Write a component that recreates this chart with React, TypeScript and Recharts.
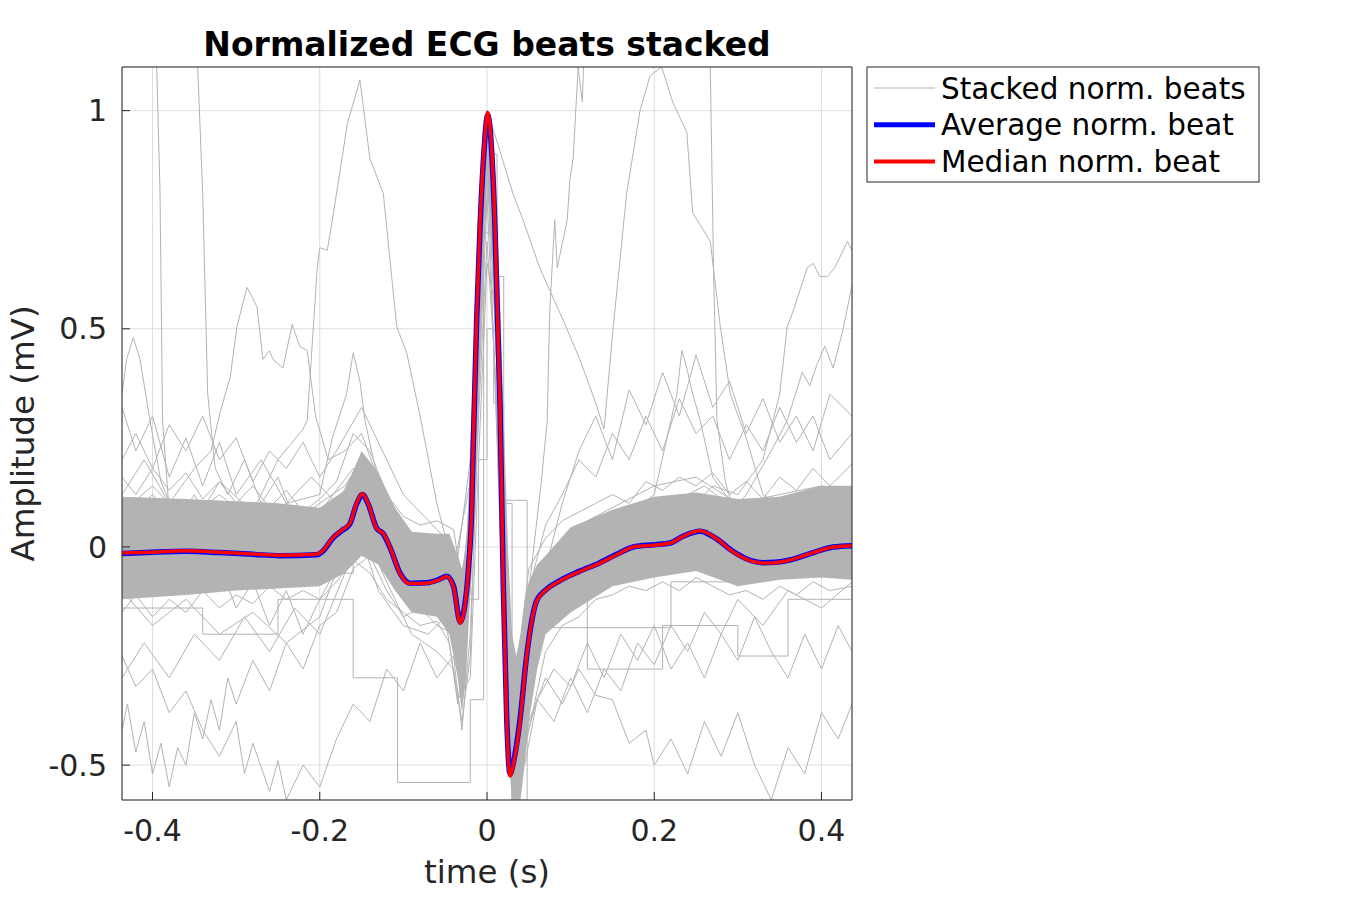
import { ComposedChart, Line, Area, XAxis, YAxis, CartesianGrid } from 'recharts';

// axis setup
const xDomain = [-0.4365, 0.4365];
const yDomain = [-0.58, 1.1];
const xTicks = [-0.4, -0.2, 0, 0.2, 0.4];
const yTicks = [-0.5, 0, 0.5, 1];

// average / median beat, sampled at hand-read times
const beatTime = [
  -0.4365, -0.4, -0.36, -0.32, -0.28, -0.248, -0.204, -0.196, -0.184, -0.174, -0.164, -0.156, -0.149, -0.142,
  -0.132, -0.124, -0.116, -0.104, -0.092, -0.072, -0.058, -0.048, -0.04, -0.032, -0.028, -0.022, -0.018,
  -0.0167, -0.0123, -0.0084, -0.004, 0.0008, 0.005, 0.0096, 0.0156, 0.0195, 0.0236, 0.0275, 0.0315, 0.0395,
  0.0475, 0.0594, 0.07, 0.0873, 0.11, 0.135, 0.155, 0.175, 0.2, 0.219, 0.235, 0.255, 0.275, 0.294, 0.31, 0.33,
  0.345, 0.362, 0.39, 0.414, 0.4365,
];
const medianBeat = [
  -0.014, -0.012, -0.009, -0.012, -0.016, -0.019, -0.017, -0.008, 0.022, 0.038, 0.054, 0.1, 0.122, 0.099,
  0.042, 0.031, 0.0, -0.061, -0.084, -0.083, -0.076, -0.068, -0.092, -0.175, -0.153, -0.046, 0.107,
  0.218, 0.53, 0.736, 0.9, 0.996, 0.93, 0.736, 0.32, -0.094, -0.4, -0.525, -0.5, -0.4,
  -0.25, -0.124, -0.1, -0.078, -0.057, -0.037, -0.018, 0.0, 0.004, 0.009, 0.025, 0.037, 0.018, -0.011, -0.028, -0.037,
  -0.036, -0.03, -0.013, 0.0, 0.003,
];
const averageBeat = [
  -0.015, -0.012, -0.01, -0.013, -0.017, -0.02, -0.018, -0.009, 0.021, 0.037, 0.053, 0.098, 0.12, 0.098,
  0.043, 0.03, -0.001, -0.06, -0.083, -0.082, -0.075, -0.067, -0.09, -0.172, -0.15, -0.045, 0.105,
  0.215, 0.525, 0.73, 0.895, 0.99, 0.925, 0.73, 0.32, -0.09, -0.395, -0.52, -0.495, -0.395,
  -0.248, -0.123, -0.099, -0.077, -0.056, -0.036, -0.017, 0.0, 0.005, 0.009, 0.025, 0.036, 0.018, -0.01, -0.027, -0.036,
  -0.035, -0.03, -0.013, 0.0, 0.003,
];

// dense cloud of stacked beats: [time, low, high]
const beatCloud = [
  [-0.4365, -0.12, 0.115], [-0.36, -0.11, 0.11], [-0.3, -0.1, 0.105], [-0.25, -0.095, 0.1], [-0.2, -0.09, 0.09],
  [-0.17, -0.06, 0.13], [-0.15, -0.02, 0.22], [-0.13, -0.04, 0.17], [-0.11, -0.1, 0.09], [-0.09, -0.15, 0.035],
  [-0.06, -0.16, 0.03], [-0.045, -0.2, 0.03], [-0.035, -0.3, -0.02], [-0.03, -0.38, -0.05], [-0.025, -0.3, 0.0],
  [-0.02, -0.1, 0.2], [-0.015, 0.1, 0.45], [-0.01, 0.35, 0.75], [-0.005, 0.6, 0.95], [0.0, 0.85, 1.0],
  [0.005, 0.8, 0.98], [0.01, 0.55, 0.85], [0.015, 0.2, 0.6], [0.02, -0.15, 0.3], [0.025, -0.45, 0.0],
  [0.03, -0.58, -0.2], [0.035, -0.58, -0.25], [0.04, -0.58, -0.2], [0.045, -0.5, -0.12], [0.05, -0.4, -0.08],
  [0.06, -0.28, -0.04], [0.07, -0.2, -0.02], [0.1, -0.15, 0.045], [0.15, -0.09, 0.085], [0.2, -0.07, 0.115],
  [0.25, -0.055, 0.125], [0.3, -0.09, 0.11], [0.35, -0.075, 0.115], [0.4, -0.07, 0.14], [0.4365, -0.075, 0.14],
];

// single stacked beats that stand out of the cloud: [time, amplitude]
const beatA = [[-0.4365,0.05],[-0.4,0.12],[-0.36,0.02],[-0.32,0.15],[-0.28,0.08],[-0.25,0.2],[-0.22,0.27],[-0.215,0.29],[-0.203,0.64],[-0.2,0.686],[-0.191,0.68],[-0.184,0.76],[-0.167,0.97],[-0.152,1.07],[-0.14,0.89],[-0.124,0.81],[-0.108,0.505],[-0.096,0.445],[-0.08,0.3],[-0.06,0.1],[-0.04,-0.05],[-0.02,0.15],[0.0,0.9],[0.02,-0.2],[0.04,-0.35],[0.07,-0.15],[0.1,-0.05],[0.15,0.05],[0.2,0.02],[0.25,0.08],[0.3,-0.02],[0.35,0.06],[0.4,0.03],[0.4365,0.05]];
const beatB = [[-0.4365,-0.05],[-0.4,0.02],[-0.36,-0.06],[-0.32,0.03],[-0.28,-0.04],[-0.24,0.05],[-0.2,0.0],[-0.16,0.15],[-0.12,0.05],[-0.08,-0.08],[-0.04,-0.1],[-0.02,0.2],[-0.005,0.9],[0.0,1.0],[0.007,0.96],[0.031,0.81],[0.043,0.75],[0.063,0.64],[0.091,0.52],[0.111,0.43],[0.13,0.33],[0.14,0.27],[0.151,0.505],[0.167,0.81],[0.183,1.0],[0.195,1.08],[0.209,1.1],[0.222,1.02],[0.239,0.95],[0.246,0.766],[0.267,0.7],[0.279,0.505],[0.291,0.35],[0.31,0.25],[0.33,0.12],[0.36,0.08],[0.4,0.12],[0.4365,0.1]];
const beatC = [[-0.4365,1.6],[-0.41,1.35],[-0.395,1.1],[-0.391,0.81],[-0.388,0.29],[-0.38,0.08],[-0.37,-0.05],[-0.36,0.02],[-0.34,-0.1],[-0.32,-0.04],[-0.3,-0.14],[-0.28,-0.08],[-0.26,-0.18],[-0.24,-0.1],[-0.22,-0.2],[-0.2,-0.12],[-0.18,-0.05],[-0.15,0.08],[-0.12,-0.05],[-0.09,-0.12],[-0.06,-0.1],[-0.04,-0.12],[-0.03,-0.25],[-0.02,-0.1],[-0.01,0.45],[0.0,0.92],[0.012,0.4],[0.025,-0.42],[0.035,-0.5],[0.05,-0.22],[0.07,-0.12],[0.1,-0.06],[0.14,-0.02],[0.18,0.03],[0.22,0.05],[0.26,0.08],[0.3,0.02],[0.34,0.0],[0.38,0.04],[0.4365,0.02]];
const beatD = [[-0.4365,1.45],[-0.37,1.3],[-0.346,1.1],[-0.34,0.81],[-0.334,0.35],[-0.325,0.18],[-0.31,0.12],[-0.29,0.2],[-0.27,0.1],[-0.25,0.16],[-0.23,0.06],[-0.2,0.1],[-0.17,0.14],[-0.15,0.2],[-0.13,0.1],[-0.1,0.0],[-0.07,-0.04],[-0.05,-0.06],[-0.035,-0.2],[-0.02,-0.1],[-0.01,0.4],[0.0,0.88],[0.012,0.5],[0.025,-0.3],[0.035,-0.48],[0.05,-0.25],[0.07,-0.1],[0.1,-0.04],[0.14,0.02],[0.18,0.06],[0.22,0.1],[0.26,0.14],[0.3,0.08],[0.34,0.04],[0.38,0.08],[0.4365,0.06]];
const beatE = [[-0.4365,0.0],[-0.4,-0.06],[-0.36,0.04],[-0.32,-0.05],[-0.28,0.03],[-0.24,-0.04],[-0.2,0.02],[-0.17,0.1],[-0.15,0.16],[-0.12,0.06],[-0.09,-0.04],[-0.06,-0.06],[-0.04,-0.08],[-0.03,-0.22],[-0.02,-0.05],[-0.01,0.5],[0.0,0.97],[0.012,0.45],[0.025,-0.4],[0.035,-0.5],[0.05,-0.1],[0.065,0.15],[0.072,0.29],[0.075,0.54],[0.081,0.75],[0.084,0.64],[0.096,0.75],[0.099,0.84],[0.103,0.89],[0.109,1.1],[0.114,1.02],[0.118,1.25],[0.14,1.5],[0.2,1.6],[0.24,1.45],[0.262,1.2],[0.267,1.1],[0.271,0.63],[0.275,0.29],[0.285,0.15],[0.3,0.05],[0.33,0.0],[0.36,0.06],[0.4,0.02],[0.4365,0.04]];
const beatF = [[-0.4365,0.05],[-0.4,0.0],[-0.36,0.08],[-0.32,0.02],[-0.28,0.1],[-0.24,0.04],[-0.2,0.08],[-0.16,0.18],[-0.13,0.1],[-0.1,-0.02],[-0.07,-0.06],[-0.04,-0.04],[-0.03,-0.18],[-0.02,0.0],[-0.01,0.55],[0.0,1.0],[0.012,0.5],[0.025,-0.38],[0.035,-0.46],[0.05,-0.15],[0.08,-0.05],[0.12,0.0],[0.16,0.05],[0.2,0.1],[0.24,0.08],[0.27,0.14],[0.3,0.12],[0.33,0.2],[0.35,0.35],[0.359,0.505],[0.366,0.54],[0.383,0.64],[0.39,0.65],[0.398,0.62],[0.407,0.62],[0.416,0.64],[0.431,0.7],[0.4365,0.68]];
const beatG = [[-0.4365,-0.05],[-0.4,0.04],[-0.36,-0.02],[-0.32,0.06],[-0.28,0.0],[-0.24,0.05],[-0.2,-0.02],[-0.16,0.12],[-0.13,0.04],[-0.1,-0.08],[-0.07,-0.1],[-0.04,-0.08],[-0.03,-0.2],[-0.02,-0.04],[-0.01,0.5],[0.0,0.96],[0.012,0.4],[0.025,-0.45],[0.035,-0.52],[0.05,-0.2],[0.08,-0.08],[0.12,-0.02],[0.16,0.04],[0.2,0.06],[0.24,0.1],[0.28,0.05],[0.31,0.12],[0.34,0.22],[0.359,0.29],[0.377,0.4],[0.386,0.37],[0.395,0.42],[0.404,0.46],[0.414,0.41],[0.426,0.5],[0.4365,0.6]];
const beatH = [[-0.4365,0.35],[-0.431,0.43],[-0.423,0.48],[-0.415,0.43],[-0.403,0.29],[-0.39,0.15],[-0.37,0.06],[-0.35,0.12],[-0.33,0.04],[-0.31,0.1],[-0.28,0.02],[-0.25,0.08],[-0.22,0.0],[-0.19,0.04],[-0.16,0.14],[-0.13,0.06],[-0.1,-0.06],[-0.07,-0.1],[-0.045,-0.08],[-0.032,-0.2],[-0.02,-0.02],[-0.01,0.5],[0.0,0.98],[0.012,0.5],[0.025,-0.4],[0.035,-0.5],[0.05,-0.16],[0.08,-0.06],[0.12,-0.02],[0.16,0.02],[0.2,0.04],[0.25,0.06],[0.3,0.0],[0.35,-0.02],[0.4,0.02],[0.4365,0.0]];
const beatI = [[-0.4365,0.12],[-0.41,0.2],[-0.38,0.1],[-0.35,0.18],[-0.33,0.22],[-0.319,0.31],[-0.307,0.39],[-0.299,0.505],[-0.287,0.595],[-0.275,0.55],[-0.268,0.43],[-0.26,0.45],[-0.256,0.43],[-0.244,0.41],[-0.233,0.51],[-0.224,0.46],[-0.215,0.45],[-0.205,0.3],[-0.19,0.2],[-0.17,0.22],[-0.15,0.26],[-0.12,0.1],[-0.09,0.0],[-0.06,-0.02],[-0.04,-0.06],[-0.03,-0.16],[-0.02,0.05],[-0.01,0.5],[0.0,0.94],[0.012,0.45],[0.025,-0.36],[0.035,-0.44],[0.05,-0.12],[0.08,0.0],[0.12,0.06],[0.16,0.1],[0.2,0.14],[0.25,0.16],[0.3,0.1],[0.35,0.12],[0.4,0.14],[0.4365,0.1]];
const beatJ = [[-0.4365,0.08],[-0.4,0.14],[-0.36,0.06],[-0.32,0.12],[-0.28,0.06],[-0.24,0.1],[-0.2,0.12],[-0.185,0.25],[-0.168,0.35],[-0.16,0.445],[-0.152,0.38],[-0.146,0.29],[-0.13,0.15],[-0.11,0.05],[-0.09,-0.02],[-0.06,-0.05],[-0.04,-0.06],[-0.03,-0.18],[-0.02,0.0],[-0.01,0.52],[0.0,0.99],[0.012,0.48],[0.025,-0.38],[0.035,-0.48],[0.05,-0.14],[0.08,-0.04],[0.12,0.02],[0.16,0.06],[0.2,0.12],[0.227,0.35],[0.233,0.45],[0.239,0.41],[0.246,0.35],[0.255,0.29],[0.27,0.16],[0.3,0.08],[0.35,0.06],[0.4,0.1],[0.4365,0.08]];
const beatK = [[-0.4365,-0.42],[-0.43,-0.36],[-0.42,-0.47],[-0.41,-0.4],[-0.4,-0.52],[-0.39,-0.45],[-0.38,-0.55],[-0.37,-0.46],[-0.36,-0.5],[-0.35,-0.38],[-0.34,-0.44],[-0.33,-0.35],[-0.32,-0.42],[-0.31,-0.3],[-0.3,-0.36],[-0.28,-0.26],[-0.26,-0.33],[-0.24,-0.22],[-0.22,-0.28],[-0.2,-0.18],[-0.18,-0.15],[-0.16,-0.05],[-0.14,-0.02],[-0.12,-0.1],[-0.1,-0.16],[-0.08,-0.14],[-0.06,-0.18],[-0.04,-0.2],[-0.03,-0.3],[-0.02,-0.1],[-0.01,0.5],[0.0,0.85],[0.01,0.6],[0.02,-0.1],[0.03,-0.5],[0.04,-0.45],[0.06,-0.2],[0.08,-0.16],[0.1,-0.12],[0.14,-0.1],[0.18,-0.05],[0.22,-0.02],[0.26,0.02],[0.3,-0.03],[0.34,-0.06],[0.38,-0.02],[0.4365,-0.04]];
const beatL = [[-0.4365,-0.25],[-0.42,-0.32],[-0.4,-0.28],[-0.38,-0.38],[-0.36,-0.33],[-0.34,-0.42],[-0.32,-0.48],[-0.3,-0.4],[-0.29,-0.52],[-0.28,-0.45],[-0.26,-0.56],[-0.25,-0.49],[-0.24,-0.58],[-0.22,-0.5],[-0.2,-0.55],[-0.18,-0.44],[-0.16,-0.36],[-0.14,-0.4],[-0.12,-0.28],[-0.1,-0.33],[-0.08,-0.22],[-0.06,-0.3],[-0.04,-0.25],[-0.03,-0.42],[-0.02,-0.2],[-0.01,0.3],[0.0,0.7],[0.01,0.4],[0.02,-0.2],[0.03,-0.58],[0.045,-0.45],[0.06,-0.35],[0.08,-0.4],[0.1,-0.3],[0.12,-0.38],[0.14,-0.28],[0.16,-0.33],[0.18,-0.22],[0.2,-0.27],[0.22,-0.18],[0.24,-0.24],[0.26,-0.15],[0.28,-0.2],[0.3,-0.12],[0.33,-0.18],[0.36,-0.1],[0.4,-0.14],[0.4365,-0.08]];
const beatM = [[-0.4365,-0.1],[-0.4,-0.18],[-0.36,-0.12],[-0.32,-0.2],[-0.28,-0.15],[-0.24,-0.22],[-0.2,-0.16],[-0.17,0.0],[-0.15,0.05],[-0.12,-0.08],[-0.09,-0.2],[-0.06,-0.24],[-0.04,-0.28],[-0.03,-0.4],[-0.02,-0.25],[-0.01,0.35],[0.0,0.8],[0.012,0.3],[0.025,-0.4],[0.035,-0.58],[0.05,-0.4],[0.07,-0.3],[0.09,-0.36],[0.11,-0.28],[0.13,-0.34],[0.15,-0.35],[0.17,-0.45],[0.19,-0.42],[0.2,-0.5],[0.22,-0.44],[0.24,-0.52],[0.26,-0.4],[0.28,-0.48],[0.3,-0.38],[0.32,-0.5],[0.34,-0.58],[0.36,-0.46],[0.38,-0.52],[0.4,-0.38],[0.42,-0.44],[0.4365,-0.36]];
const beatN = [[-0.4365,-0.3],[-0.41,-0.22],[-0.38,-0.3],[-0.35,-0.2],[-0.32,-0.26],[-0.29,-0.16],[-0.26,-0.24],[-0.23,-0.14],[-0.2,-0.2],[-0.17,-0.06],[-0.15,0.02],[-0.13,-0.1],[-0.1,-0.18],[-0.07,-0.2],[-0.05,-0.16],[-0.035,-0.35],[-0.02,-0.3],[-0.01,0.2],[0.0,0.65],[0.01,0.55],[0.02,0.0],[0.03,-0.45],[0.045,-0.5],[0.06,-0.35],[0.08,-0.28],[0.1,-0.32],[0.12,-0.22],[0.14,-0.3],[0.16,-0.2],[0.18,-0.26],[0.2,-0.18],[0.22,-0.28],[0.24,-0.22],[0.26,-0.3],[0.28,-0.2],[0.3,-0.26],[0.32,-0.16],[0.34,-0.24],[0.36,-0.3],[0.38,-0.2],[0.4,-0.28],[0.42,-0.18],[0.4365,-0.24]];
const beatO = [[-0.4365,0.2],[-0.42,0.26],[-0.4,0.18],[-0.38,0.28],[-0.36,0.22],[-0.34,0.3],[-0.32,0.2],[-0.3,0.25],[-0.28,0.15],[-0.26,0.22],[-0.24,0.18],[-0.22,0.24],[-0.2,0.16],[-0.18,0.22],[-0.15,0.32],[-0.12,0.2],[-0.1,0.12],[-0.08,0.08],[-0.06,0.04],[-0.04,0.0],[-0.03,-0.1],[-0.02,0.0],[-0.01,0.5],[0.0,0.95],[0.012,0.5],[0.025,-0.3],[0.035,-0.35],[0.05,-0.1],[0.07,0.05],[0.09,0.12],[0.11,0.2],[0.13,0.16],[0.15,0.26],[0.17,0.2],[0.19,0.3],[0.21,0.22],[0.23,0.34],[0.25,0.26],[0.27,0.3],[0.29,0.2],[0.31,0.28],[0.33,0.22],[0.35,0.32],[0.37,0.24],[0.39,0.3],[0.41,0.2],[0.4365,0.26]];
const beatP = [[-0.4365,0.32],[-0.42,0.22],[-0.4,0.3],[-0.38,0.16],[-0.36,0.25],[-0.34,0.14],[-0.32,0.24],[-0.3,0.12],[-0.27,0.2],[-0.24,0.1],[-0.21,0.16],[-0.18,0.1],[-0.15,0.2],[-0.12,0.1],[-0.09,0.02],[-0.06,-0.02],[-0.04,-0.05],[-0.03,-0.2],[-0.02,-0.05],[-0.01,0.4],[0.0,0.9],[0.012,0.45],[0.025,-0.35],[0.035,-0.45],[0.05,-0.2],[0.07,-0.05],[0.09,0.1],[0.11,0.22],[0.13,0.3],[0.15,0.2],[0.17,0.36],[0.19,0.28],[0.21,0.4],[0.23,0.3],[0.25,0.44],[0.27,0.32],[0.29,0.38],[0.31,0.26],[0.33,0.34],[0.35,0.24],[0.37,0.3],[0.39,0.22],[0.41,0.35],[0.4365,0.3]];
// beats hugging the edges of the cloud
const beatQ = [[-0.4365,0.16],[-0.42,0.12],[-0.4,0.18],[-0.38,0.13],[-0.36,0.17],[-0.34,0.11],[-0.32,0.15],[-0.3,0.1],[-0.28,0.14],[-0.26,0.09],[-0.24,0.13],[-0.22,0.08],[-0.2,0.11],[-0.18,0.15],[-0.16,0.26],[-0.14,0.22],[-0.12,0.12],[-0.1,0.07],[-0.08,0.05],[-0.06,0.06],[-0.04,0.04],[-0.03,-0.08],[-0.02,0.1],[-0.01,0.6],[0.0,1.0],[0.012,0.55],[0.025,-0.25],[0.035,-0.3],[0.05,-0.05],[0.07,0.02],[0.09,0.06],[0.11,0.08],[0.13,0.1],[0.15,0.12],[0.17,0.1],[0.19,0.15],[0.21,0.13],[0.23,0.16],[0.25,0.14],[0.27,0.17],[0.29,0.12],[0.31,0.15],[0.33,0.11],[0.35,0.16],[0.37,0.13],[0.39,0.18],[0.41,0.14],[0.4365,0.19]];
const beatR = [[-0.4365,-0.15],[-0.42,-0.11],[-0.4,-0.16],[-0.38,-0.12],[-0.36,-0.15],[-0.34,-0.1],[-0.32,-0.14],[-0.3,-0.11],[-0.28,-0.13],[-0.26,-0.09],[-0.24,-0.12],[-0.22,-0.1],[-0.2,-0.12],[-0.18,-0.08],[-0.16,-0.03],[-0.14,-0.06],[-0.12,-0.12],[-0.1,-0.15],[-0.08,-0.18],[-0.06,-0.17],[-0.045,-0.22],[-0.035,-0.36],[-0.025,-0.2],[-0.015,0.2],[-0.005,0.7],[0.003,0.85],[0.012,0.45],[0.025,-0.45],[0.035,-0.56],[0.05,-0.42],[0.07,-0.24],[0.09,-0.18],[0.11,-0.16],[0.13,-0.12],[0.15,-0.11],[0.17,-0.09],[0.19,-0.1],[0.21,-0.08],[0.23,-0.1],[0.25,-0.07],[0.27,-0.09],[0.29,-0.11],[0.31,-0.1],[0.33,-0.12],[0.35,-0.09],[0.37,-0.11],[0.39,-0.08],[0.41,-0.1],[0.4365,-0.09]];
// beats that were held sample-and-hold (step shaped)
const beatStepA = [[-0.4365,-0.14],[-0.34,-0.2],[-0.25,-0.12],[-0.16,-0.3],[-0.107,-0.54],[-0.02,-0.35],[-0.004,0.72],[0.004,0.9],[0.012,0.62],[0.02,0.1],[0.03,-0.58],[0.048,-0.15],[0.06,-0.12],[0.12,-0.28],[0.21,-0.18],[0.3,-0.25],[0.36,-0.12],[0.4365,-0.12]];
const beatStepB = [[-0.4365,-0.02],[-0.3,-0.06],[-0.16,0.0],[-0.05,-0.12],[-0.01,0.2],[0.0,0.5],[0.008,0.33],[0.02,0.107],[0.048,-0.185],[0.108,-0.185],[0.22,-0.08],[0.33,-0.04],[0.4365,-0.06]];

const stackedBeats = [beatK, beatL, beatM, beatN, beatO, beatP, beatQ, beatR, beatA, beatB, beatC, beatD, beatE, beatF, beatG, beatH, beatI, beatJ];
const stepBeats = [beatStepA, beatStepB];

const toPoints = (pairs: number[][]) => pairs.map(([t, v]) => ({ t, v }));
const meanData = beatTime.map((t, i) => ({ t, avg: averageBeat[i], med: medianBeat[i] }));
const cloudData = beatCloud.map(([t, lo, hi]) => ({ t, range: [lo, hi] }));

const GRAY = '#b3b3b3';
const AXIS = '#262626';
const FONT = "'DejaVu Sans', sans-serif";

const legendItems = [
  { label: 'Stacked norm. beats', color: GRAY, width: 1 },
  { label: 'Average norm. beat', color: '#0000ff', width: 5 },
  { label: 'Median norm. beat', color: '#ff0000', width: 4 },
];

const EcgLegend = () => (
  <svg width={394} height={117} style={{ position: 'absolute', left: 866, top: 66 }}>
    <rect x={1} y={1} width={392} height={115} fill="#fff" stroke={AXIS} strokeWidth={1} />
    {legendItems.map((item, i) => {
      const cy = 22 + i * 36.7;
      return (
        <g key={item.label}>
          <line x1={8} x2={69} y1={cy} y2={cy} stroke={item.color} strokeWidth={item.width} />
          <text x={75} y={cy + 10.5} fontSize={29.5} fill="#000" fontFamily={FONT}>
            {item.label}
          </text>
        </g>
      );
    })}
  </svg>
);

export default function App() {
  return (
    <div style={{ position: 'absolute', left: 0, top: 0, width: 1350, height: 900, fontFamily: FONT, background: '#fff' }}>
      <ComposedChart width={1350} height={900} margin={{ top: 66, right: 497, bottom: 0, left: 0 }}>
        <CartesianGrid stroke="#dedede" strokeWidth={1} />
        <XAxis
          dataKey="t"
          type="number"
          domain={xDomain}
          ticks={xTicks}
          allowDataOverflow
          height={100}
          stroke={AXIS}
          tickSize={-8}
          tickMargin={28}
          tick={{ fontSize: 30, fill: AXIS }}
          label={{ value: 'time (s)', position: 'insideBottom', offset: 17, style: { fontSize: 32.5, fill: AXIS } }}
        />
        <XAxis
          xAxisId="top"
          orientation="top"
          type="number"
          domain={xDomain}
          ticks={xTicks}
          allowDataOverflow
          height={1}
          stroke={AXIS}
          tickSize={-8}
          tick={false}
          label={{ value: 'Normalized ECG beats stacked', position: 'top', offset: 10, style: { fontSize: 33, fontWeight: 'bold', fill: '#000' } }}
        />
        <YAxis
          type="number"
          domain={yDomain}
          ticks={yTicks}
          allowDataOverflow
          width={122}
          stroke={AXIS}
          tickSize={-8}
          tickMargin={23}
          tick={{ fontSize: 30, fill: AXIS }}
          label={{ value: 'Amplitude (mV)', angle: -90, position: 'insideLeft', offset: 22, style: { fontSize: 32.5, fill: AXIS, textAnchor: 'middle' } }}
        />
        <YAxis
          yAxisId="right"
          orientation="right"
          type="number"
          domain={yDomain}
          ticks={yTicks}
          allowDataOverflow
          width={1}
          stroke={AXIS}
          tickSize={-8}
          tick={false}
        />
        <Area
          data={cloudData}
          dataKey="range"
          type="linear"
          stroke="none"
          fill={GRAY}
          fillOpacity={1}
          isAnimationActive={false}
        />
        {stackedBeats.map((beat, i) => (
          <Line
            key={`beat-${i}`}
            data={toPoints(beat)}
            dataKey="v"
            type="linear"
            stroke={GRAY}
            strokeWidth={1}
            dot={false}
            activeDot={false}
            isAnimationActive={false}
          />
        ))}
        {stepBeats.map((beat, i) => (
          <Line
            key={`step-${i}`}
            data={toPoints(beat)}
            dataKey="v"
            type="stepAfter"
            stroke={GRAY}
            strokeWidth={1}
            dot={false}
            activeDot={false}
            isAnimationActive={false}
          />
        ))}
        <Line
          data={meanData}
          dataKey="avg"
          type="monotone"
          stroke="#0000ff"
          strokeWidth={5.5}
          dot={false}
          activeDot={false}
          isAnimationActive={false}
        />
        <Line
          data={meanData}
          dataKey="med"
          type="monotone"
          stroke="#ff0000"
          strokeWidth={3.5}
          dot={false}
          activeDot={false}
          isAnimationActive={false}
        />
      </ComposedChart>
      <EcgLegend />
    </div>
  );
}
